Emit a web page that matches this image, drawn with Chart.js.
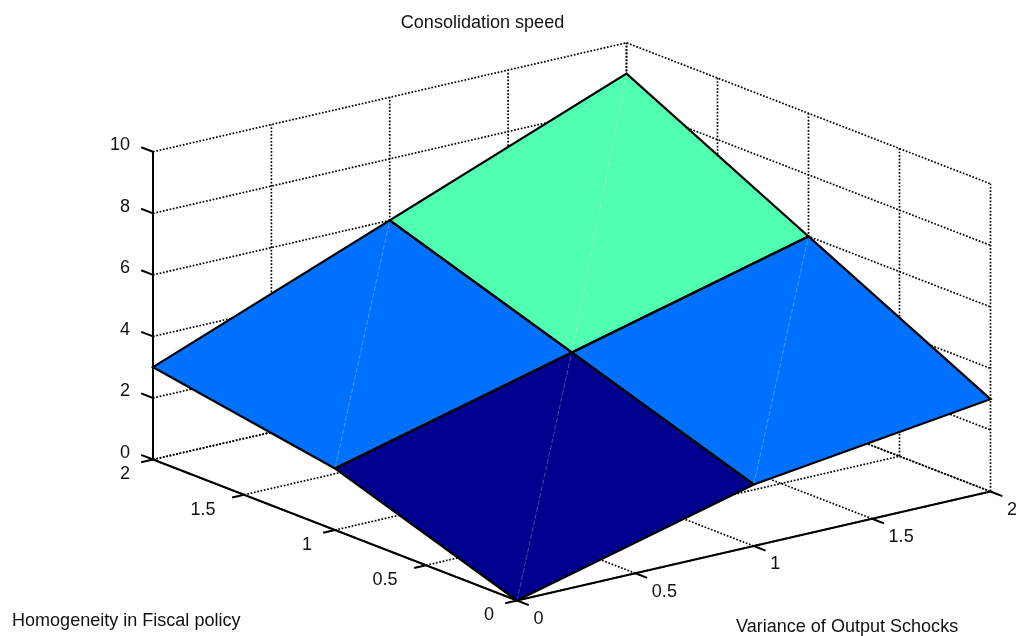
<!DOCTYPE html>
<html>
<head>
<meta charset="utf-8">
<title>Consolidation speed</title>
<script src="https://cdn.jsdelivr.net/npm/chart.js@4"></script>
<style>
  html, body { margin: 0; padding: 0; background: #fff; }
  canvas { display: block; }
</style>
</head>
<body>
<canvas id="chart" width="1016" height="636"></canvas>
<script>
// surface values, zValues[x index][y index]
const xValues = [0, 1, 2];
const yValues = [0, 1, 2];
const zValues = [
  [0, 2, 3],
  [2, 4, 6],
  [3, 6, 9],
];
const faceColors = [
  ['#00008F', '#0070FF'],
  ['#0070FF', '#50FFAF'],
];

const xTicks = [0, 0.5, 1, 1.5, 2];
const yTicks = [0, 0.5, 1, 1.5, 2];
const zTicks = [0, 2, 4, 6, 8, 10];

const titleText = 'Consolidation speed';
const xTitleText = 'Variance of Output Schocks';
const yTitleText = 'Homogeneity in Fiscal policy';

// orthographic view of the matlab box, in page pixels
function project(x, y, z) {
  return {
    x: 517 + x * 236.75 - y * 182,
    y: 600.5 - x * 54.5 - y * 70.5 - z * 30.77,
  };
}

const datasets = [];

function addLine(points, color, width, dash) {
  datasets.push({
    data: points.map(p => project(p[0], p[1], p[2])),
    showLine: true,
    borderColor: color,
    borderWidth: width,
    borderDash: dash || [],
    pointRadius: 0,
    fill: false,
    tension: 0,
    clip: false,
  });
}

const DOTS = [1.7, 1.7];

// grid on the floor and on the two back walls
xTicks.forEach(t => {
  addLine([[t, 0, 0], [t, 2, 0], [t, 2, 10]], '#000', 1.7, DOTS);
});
yTicks.forEach(t => {
  addLine([[0, t, 0], [2, t, 0], [2, t, 10]], '#000', 1.7, DOTS);
});
zTicks.forEach(t => {
  addLine([[0, 2, t], [2, 2, t], [2, 0, t]], '#000', 1.7, DOTS);
});

// axes and ticks
addLine([[0, 0, 0], [2, 0, 0]], '#000', 2);
addLine([[0, 0, 0], [0, 2, 0]], '#000', 2);
addLine([[0, 2, 0], [0, 2, 10]], '#000', 2);
xTicks.forEach(t => addLine([[t, 0, 0], [t, -0.065, 0]], '#000', 2));
yTicks.forEach(t => addLine([[0, t, 0], [-0.05, t, 0]], '#000', 2));
zTicks.forEach(t => addLine([[0, 2, t], [0, 2.065, t]], '#000', 2));

function faceCorners(i, j) {
  return [
    [xValues[i], yValues[j], zValues[i][j]],
    [xValues[i + 1], yValues[j], zValues[i + 1][j]],
    [xValues[i + 1], yValues[j + 1], zValues[i + 1][j + 1]],
    [xValues[i], yValues[j + 1], zValues[i][j + 1]],
    [xValues[i], yValues[j], zValues[i][j]],
  ];
}

// surface faces, with the faint seam between the two triangles of each face
for (let i = 0; i < xValues.length - 1; i++) {
  for (let j = 0; j < yValues.length - 1; j++) {
    const corners = faceCorners(i, j);
    addLine(corners, faceColors[i][j], 0.5);
    const face = datasets[datasets.length - 1];
    face.fill = 'shape';
    face.backgroundColor = faceColors[i][j];
    addLine([corners[0], corners[2]], 'rgba(255,255,255,0.35)', 0.8, [5, 2]);
  }
}
// black edges go on top of every face
for (let i = 0; i < xValues.length - 1; i++) {
  for (let j = 0; j < yValues.length - 1; j++) {
    addLine(faceCorners(i, j), '#000', 2.2);
  }
}

const FONT = '18.05px "Liberation Sans", Arial, sans-serif';

const textPlugin = {
  id: 'plotText',
  afterDraw(c) {
    const ctx = c.ctx;
    const sx = c.scales.x;
    const sy = c.scales.y;
    const put = (text, px, py, align) => {
      ctx.textAlign = align;
      ctx.fillText(text, sx.getPixelForValue(px), sy.getPixelForValue(py));
    };
    ctx.save();
    ctx.font = FONT;
    ctx.fillStyle = '#111';
    ctx.textBaseline = 'middle';

    zTicks.forEach(t => {
      const p = project(0, 2, t);
      put(String(t), 130, p.y - 6.5, 'right');
    });
    yTicks.forEach(t => {
      const p = project(0, t, 0);
      const label = String(t);
      put(label, p.x + (label.length > 1 ? -41 : -28), p.y + 15, 'center');
    });
    xTicks.forEach(t => {
      const p = project(t, 0, 0);
      const label = String(t);
      put(label, p.x + (label.length > 1 ? 29 : 21.5), p.y + 18.5, 'center');
    });

    put(titleText, 482.5, 23, 'center');
    put(yTitleText, 12, 621, 'left');
    put(xTitleText, 736, 627, 'left');
    ctx.restore();
  },
};

new Chart(document.getElementById('chart'), {
  type: 'scatter',
  // chart.js paints the first dataset last, so flip the painter's order
  data: { datasets: datasets.reverse() },
  options: {
    responsive: false,
    animation: false,
    events: [],
    layout: { padding: 0 },
    scales: {
      x: { type: 'linear', min: 0, max: 1016, display: false },
      y: { type: 'linear', min: 0, max: 636, reverse: true, display: false },
    },
    plugins: {
      legend: { display: false },
      tooltip: { enabled: false },
    },
  },
  plugins: [textPlugin],
});
</script>
</body>
</html>
